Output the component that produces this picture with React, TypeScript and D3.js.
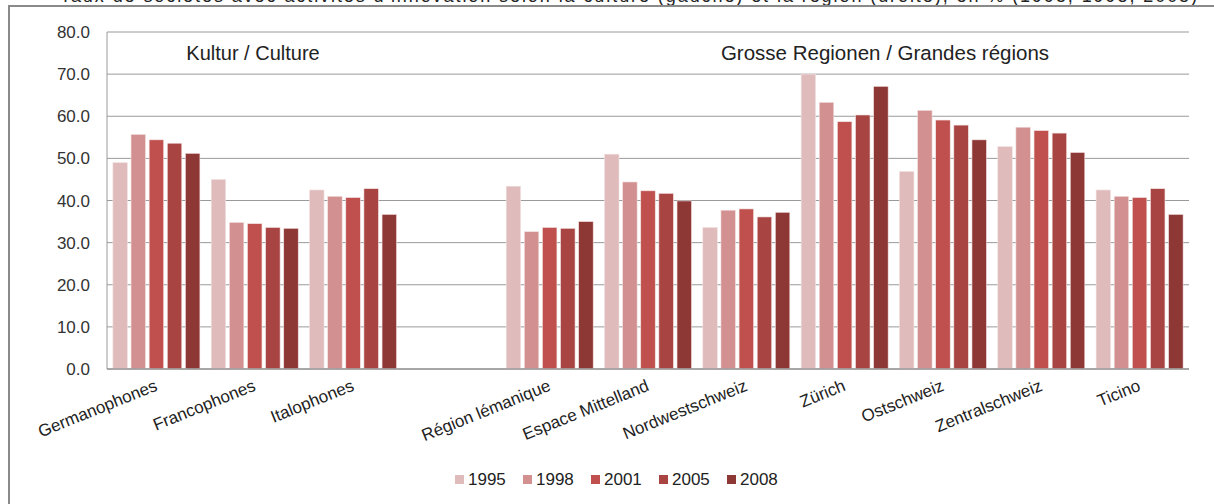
import React from "react";
import * as d3 from "d3";

const categories = [
  "Germanophones", "Francophones", "Italophones", "",
  "Région lémanique", "Espace Mittelland", "Nordwestschweiz", "Zürich",
  "Ostschweiz", "Zentralschweiz", "Ticino",
];
const years = ["1995", "1998", "2001", "2005", "2008"];
const colors = ["#E0BBBB", "#D39090", "#C0504D", "#A84542", "#8E3836"];

const v1995 = [49.0, 45.0, 42.5, null, 43.4, 51.0, 33.6, 70.0, 46.9, 52.8, 42.5];
const v1998 = [55.7, 34.8, 41.0, null, 32.6, 44.4, 37.7, 63.3, 61.4, 57.4, 41.0];
const v2001 = [54.4, 34.5, 40.7, null, 33.6, 42.3, 38.0, 58.7, 59.1, 56.6, 40.7];
const v2005 = [53.6, 33.6, 42.8, null, 33.4, 41.7, 36.1, 60.3, 57.9, 56.0, 42.8];
const v2008 = [51.2, 33.4, 36.7, null, 35.0, 39.9, 37.2, 67.1, 54.4, 51.4, 36.7];
const series = [v1995, v1998, v2001, v2005, v2008];

const yTicks = [0, 10, 20, 30, 40, 50, 60, 70, 80];

const W = 1214, H = 504;
const left = 107, right = 1189, top = 32, bottom = 369;

export default function App() {
  const x = d3.scaleBand<number>().domain(d3.range(categories.length)).range([left, right]).paddingInner(0.115).paddingOuter(0.06);
  const xs = d3.scaleBand<number>().domain(d3.range(years.length)).range([0, x.bandwidth()]).paddingInner(0.2);
  const y = d3.scaleLinear().domain([0, 80]).range([bottom, top]);
  const font = "'Liberation Sans', Arial, sans-serif";

  return (
    <svg width={W} height={H} style={{ position: "absolute", left: 0, top: 0, background: "#fff" }} fontFamily={font}>
      <text x={60} y={2} fontSize={18} fill="#222" textLength={1137} lengthAdjust="spacing">
        Taux de sociétés avec activités d'innovation selon la culture (gauche) et la région (droite), en % (1995, 1998, 2008)
      </text>
      <rect x={9} y={6} width={1230} height={520} fill="none" stroke="#8a8a8a" strokeWidth={2} />
      {yTicks.map((t) => (
        <g key={t}>
          <line x1={left} x2={right} y1={y(t)} y2={y(t)} stroke="#9a9a9a" strokeWidth={1} />
          <text x={90} y={y(t) + 6} textAnchor="end" fontSize={17} fill="#333">{t.toFixed(1)}</text>
        </g>
      ))}
      <line x1={left} x2={left} y1={top} y2={bottom} stroke="#9a9a9a" strokeWidth={1} />
      {categories.map((c, i) => (
        <g key={i} transform={`translate(${x(i)},0)`}>
          {series.map((s, j) => {
            const val = s[i];
            if (val == null) return null;
            return (
              <rect key={j} x={xs(j)} y={y(val)} width={xs.bandwidth()} height={y(0) - y(val)}
                fill={colors[j]} stroke="#f3e3e3" strokeWidth={0.6} />
            );
          })}
        </g>
      ))}
      <line x1={left} x2={right} y1={bottom} y2={bottom} stroke="#9a9a9a" strokeWidth={1.5} />
      {categories.map((c, i) => (
        <text key={i} transform={`translate(${x(i)! + x.bandwidth() / 2 + 2},${bottom + 21}) rotate(-22)`}
          textAnchor="end" fontSize={17} fill="#222">{c}</text>
      ))}
      <text x={253} y={60} textAnchor="middle" fontSize={20} fill="#222">Kultur / Culture</text>
      <text x={885} y={60} textAnchor="middle" fontSize={20.5} fill="#222">Grosse Regionen / Grandes régions</text>
      {years.map((yr, j) => (
        <g key={yr} transform={`translate(${455 + j * 68},0)`}>
          <rect x={0} y={475} width={9} height={9} fill={colors[j]} />
          <text x={13} y={485} fontSize={17} fill="#222">{yr}</text>
        </g>
      ))}
    </svg>
  );
}
